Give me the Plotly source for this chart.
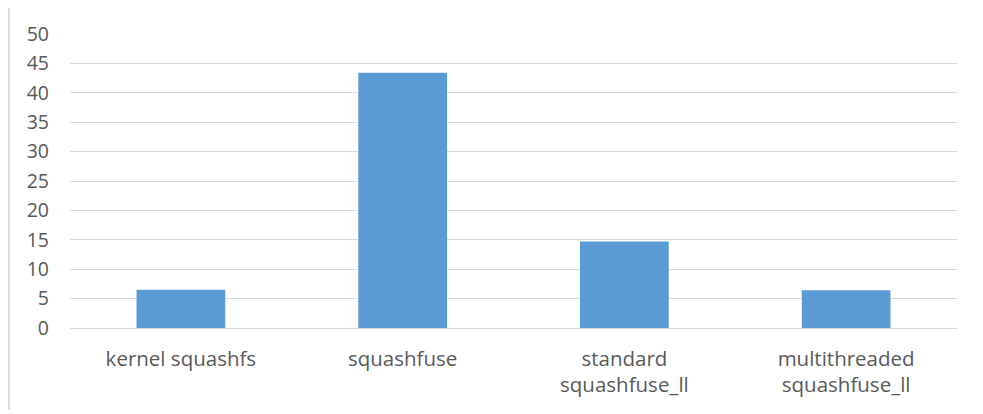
import plotly.graph_objects as go

categories = ["kernel squashfs", "squashfuse", "standard<br>squashfuse_ll", "multithreaded<br>squashfuse_ll"]
values = [6.5, 43.4, 14.7, 6.4]
y_ticks = [0, 5, 10, 15, 20, 25, 30, 35, 40, 45, 50]

fig = go.Figure(go.Bar(x=categories, y=values, marker=dict(color="#5b9bd5", line=dict(color="#5b9bd5", width=0))))

fig.update_layout(
    width=983, height=414,
    margin=dict(l=62, r=34, t=26, b=94),
    plot_bgcolor="white", paper_bgcolor="white",
    bargap=0.6,
    showlegend=False,
    font=dict(family="Open Sans, sans-serif", size=19.5, color="#595959"),
    xaxis=dict(showgrid=False, showline=False, ticks="", ticklabelstandoff=16,
               tickfont=dict(size=20.5)),
    yaxis=dict(range=[0, 50], tickvals=y_ticks, showgrid=True, gridcolor="#d9d9d9", gridwidth=1,
               zeroline=True, zerolinecolor="#d9d9d9", zerolinewidth=1, showline=False, ticks="",
               ticklabelstandoff=20, tickfont=dict(size=19.5)),
    shapes=[dict(type="line", xref="paper", yref="paper", x0=-0.0688, x1=-0.0688, y0=-0.279, y1=1.088,
                 line=dict(color="#d9d9d9", width=2))],
)

fig.write_html("out.html")
